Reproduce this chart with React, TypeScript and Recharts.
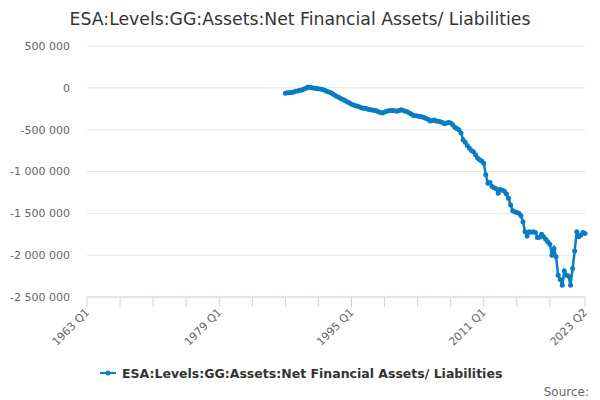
import { LineChart, Line, XAxis, YAxis, CartesianGrid } from 'recharts';

const TITLE = 'ESA:Levels:GG:Assets:Net Financial Assets/ Liabilities';
const SERIES_NAME = 'ESA:Levels:GG:Assets:Net Financial Assets/ Liabilities';
const LINE_COLOR = '#0a7cc3';
const FONT = '"DejaVu Sans", Verdana, sans-serif';

// quarters on the axis: 1963 Q1 .. 2023 Q2
const firstYear = 1963;
const lastYear = 2023;
const lastQuarter = 2;
const quarters: string[] = [];
for (let y = firstYear; y <= lastYear; y++) {
  for (let q = 1; q <= 4; q++) {
    if (y === lastYear && q > lastQuarter) break;
    quarters.push(`${y} Q${q}`);
  }
}

// series starts 1987 Q1, values in the picture's units
const seriesStart = '1987 Q1';
const values = [
  -65000, -60000, -58000, -55000, // 1987
  -50000, -42000, -38000, -30000, // 1988
  -25000, -15000, -5000, 10000, // 1989
  5000, 0, -5000, -8000, // 1990
  -10000, -15000, -20000, -28000, // 1991
  -40000, -50000, -60000, -75000, // 1992
  -90000, -105000, -115000, -130000, // 1993
  -140000, -155000, -170000, -180000, // 1994
  -195000, -205000, -215000, -220000, // 1995
  -230000, -240000, -245000, -248000, // 1996
  -255000, -262000, -265000, -270000, // 1997
  -275000, -285000, -295000, -300000, // 1998
  -290000, -280000, -275000, -270000, // 1999
  -272000, -275000, -280000, -270000, // 2000
  -263000, -270000, -280000, -285000, // 2001
  -300000, -315000, -330000, -335000, // 2002
  -338000, -342000, -345000, -355000, // 2003
  -365000, -375000, -395000, -390000, // 2004
  -385000, -395000, -400000, -405000, // 2005
  -415000, -430000, -420000, -415000, // 2006
  -420000, -440000, -470000, -485000, // 2007
  -500000, -540000, -620000, -650000, // 2008
  -690000, -720000, -750000, -765000, // 2009
  -800000, -840000, -860000, -875000, // 2010
  -900000, -1040000, -1140000, -1130000, // 2011
  -1180000, -1195000, -1205000, -1260000, // 2012
  -1215000, -1225000, -1235000, -1270000, // 2013
  -1320000, -1400000, -1470000, -1480000, // 2014
  -1490000, -1500000, -1530000, -1600000, // 2015
  -1720000, -1770000, -1720000, -1725000, // 2016
  -1720000, -1730000, -1790000, -1785000, // 2017
  -1750000, -1780000, -1810000, -1840000, // 2018
  -1870000, -2000000, -1920000, -2020000, // 2019
  -2240000, -2290000, -2360000, -2190000, // 2020
  -2240000, -2250000, -2360000, -2160000, // 2021
  -1950000, -1720000, -1780000, -1760000, // 2022
  -1730000, -1740000, // 2023
];

const yTicks = [500000, 0, -500000, -1000000, -1500000, -2000000, -2500000];
const xTickMarks = [
  '1963 Q1', '1967 Q1', '1971 Q1', '1975 Q1', '1979 Q1', '1983 Q1', '1987 Q1', '1991 Q1',
  '1995 Q1', '1999 Q1', '2003 Q1', '2007 Q1', '2011 Q1', '2015 Q1', '2019 Q1', '2023 Q2',
];
const xLabels = ['1963 Q1', '1979 Q1', '1995 Q1', '2011 Q1', '2023 Q2'];

const startIdx = quarters.indexOf(seriesStart);
const data = quarters.map((label, i) => ({
  label,
  value: i >= startIdx && i - startIdx < values.length ? values[i - startIdx] : null,
}));

function fmt(v: number) {
  const s = Math.abs(v).toString().replace(/\B(?=(\d{3})+(?!\d))/g, ' ');
  return v < 0 ? `-${s}` : s;
}

function XTick(props: any) {
  const { x, y, payload } = props;
  if (!xLabels.includes(payload.value)) return <g />;
  return (
    <text
      x={x + 3}
      y={y + 4}
      textAnchor="end"
      transform={`rotate(-45, ${x + 3}, ${y + 4})`}
      fontSize={11}
      fontFamily={FONT}
      fill="#666666"
    >
      {payload.value}
    </text>
  );
}

export default function App() {
  return (
    <div style={{ position: 'absolute', left: 0, top: 0, width: 600, height: 400, background: '#fff' }}>
      <LineChart
        width={600}
        height={400}
        data={data}
        margin={{ top: 46, right: 15, bottom: 48, left: 8 }}
      >
        <CartesianGrid stroke="#e6e6e6" vertical={false} />
        <XAxis
          dataKey="label"
          ticks={xTickMarks}
          interval={0}
          height={55}
          tick={<XTick />}
          tickSize={10}
          tickMargin={2}
          stroke="#ccd6eb"
          tickLine={{ stroke: '#ccd6eb' }}
          axisLine={{ stroke: '#ccd6eb' }}
        />
        <YAxis
          width={79}
          domain={[-2500000, 500000]}
          ticks={yTicks}
          tickFormatter={fmt}
          axisLine={false}
          tickLine={false}
          tickSize={0}
          tickMargin={17}
          tick={{ fontSize: 11, fill: '#666666', fontFamily: FONT }}
        />
        <Line
          type="linear"
          dataKey="value"
          stroke={LINE_COLOR}
          strokeWidth={2.5}
          dot={{ r: 2.5, fill: LINE_COLOR, stroke: LINE_COLOR, strokeWidth: 0 }}
          connectNulls={false}
          isAnimationActive={false}
        />
      </LineChart>
      <svg
        width={600}
        height={400}
        style={{ position: 'absolute', left: 0, top: 0, pointerEvents: 'none' }}
      >
        <text x={300} y={25} textAnchor="middle" fontSize={17.3} fontFamily={FONT} fill="#333333">
          {TITLE}
        </text>
        <line x1={100} y1={373} x2={116} y2={373} stroke={LINE_COLOR} strokeWidth={2} />
        <circle cx={108} cy={373} r={2.5} fill={LINE_COLOR} />
        <text x={122} y={378} fontSize={12.5} fontWeight="bold" fontFamily={FONT} fill="#333333">
          {SERIES_NAME}
        </text>
        <text x={589} y={396} textAnchor="end" fontSize={12} fontFamily={FONT} fill="#666666">
          Source:
        </text>
      </svg>
    </div>
  );
}
